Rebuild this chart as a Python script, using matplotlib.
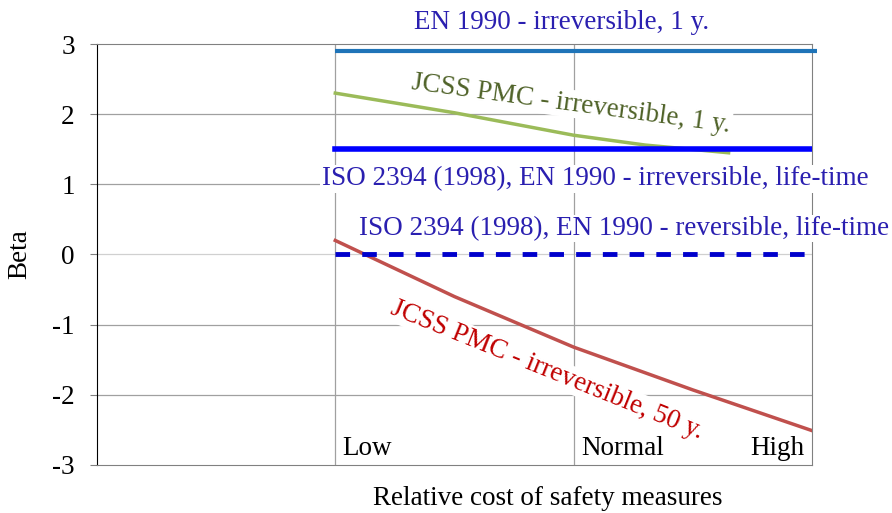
import numpy as np
import matplotlib
matplotlib.use('Agg')
from matplotlib import pyplot as plt

plt.rcParams['font.family'] = ['Liberation Serif', 'DejaVu Serif']
plt.rcParams['font.size'] = 19.5
plt.rcParams['axes.unicode_minus'] = False

# cost levels on the x axis (0 = empty left part of the chart)
levels = ['Low', 'Normal', 'High']
level_x = [1, 2, 3]

# target levels (constant)
en1990_1y = 2.9
iso_irrev_life = 1.5
iso_rev_life = 0.0

# JCSS PMC curves
jcss_1y_x = [1, 1.5, 2, 2.3, 2.65]
jcss_1y = [2.3, 2.02, 1.70, 1.56, 1.45]
jcss_50y_x = [1, 1.5, 2, 2.5, 3]
jcss_50y = [0.2, -0.6, -1.32, -1.93, -2.51]

fig = plt.figure(figsize=(8.92, 5.13), dpi=100)
ax = fig.add_axes([0.1087, 0.0936, 0.8016, 0.8206])

ax.set_xlim(0, 3)
ax.set_ylim(-3, 3)
ax.set_yticks(range(-3, 4))
ax.set_xticks([])

for y in range(-2, 3):
    ax.axhline(y, color='#d0d0d0' if y == 0 else '#a0a0a0', lw=0.9, zorder=0)
for x in level_x[:2]:
    ax.axvline(x, color='#a0a0a0', lw=0.9, zorder=0)

for s in ['top', 'right', 'bottom']:
    ax.spines[s].set_color('#808080')
ax.spines['left'].set_color('black')
ax.tick_params(axis='y', length=5, color='#808080', pad=11)

ax.plot([1, 3.02], [en1990_1y] * 2, color='#1f74b8', lw=3, solid_capstyle='butt', zorder=3, clip_on=False)
ax.plot([1, 3], [iso_irrev_life] * 2, color='#0000ff', lw=4, zorder=3)
ax.plot([1, 3], [iso_rev_life] * 2, color='#0000cc', lw=3.5, ls=(0, (3, 2.5)), zorder=3)
ax.plot(jcss_1y_x, jcss_1y, color='#9bbb59', lw=2.5, zorder=2)
ax.plot(jcss_50y_x, jcss_50y, color='#c0504d', lw=2.5, zorder=2)

box = dict(facecolor='white', edgecolor='none', pad=1)
ax.text(1.95, 3.31, 'EN 1990 - irreversible, 1 y.', color='#2a1fb0',
        ha='center', va='center', clip_on=False)
ax.text(1.99, 2.15, 'JCSS PMC - irreversible, 1 y.', color='#4f6228',
        ha='center', va='center', rotation=-7.7, bbox=box, zorder=4)
ax.text(2.09, 1.08, 'ISO 2394 (1998), EN 1990 - irreversible, life-time', color='#2a1fb0',
        ha='center', va='center', bbox=box, zorder=4, clip_on=False)
ax.text(2.21, 0.37, 'ISO 2394 (1998), EN 1990 - reversible, life-time', color='#2a1fb0',
        ha='center', va='center', bbox=box, zorder=4, clip_on=False)
ax.text(1.89, -1.65, 'JCSS PMC - irreversible, 50 y.', color='#c00000',
        ha='center', va='center', rotation=-22, bbox=box, zorder=4)

ax.text(1.03, -2.86, levels[0], ha='left', va='baseline')
ax.text(2.03, -2.86, levels[1], ha='left', va='baseline')
ax.text(2.97, -2.86, levels[2], ha='right', va='baseline')

ax.set_ylabel('Beta', labelpad=14)
ax.set_xlabel('Relative cost of safety measures')
ax.xaxis.set_label_coords(0.63, -0.05)

fig.savefig('out.png', dpi=100)
